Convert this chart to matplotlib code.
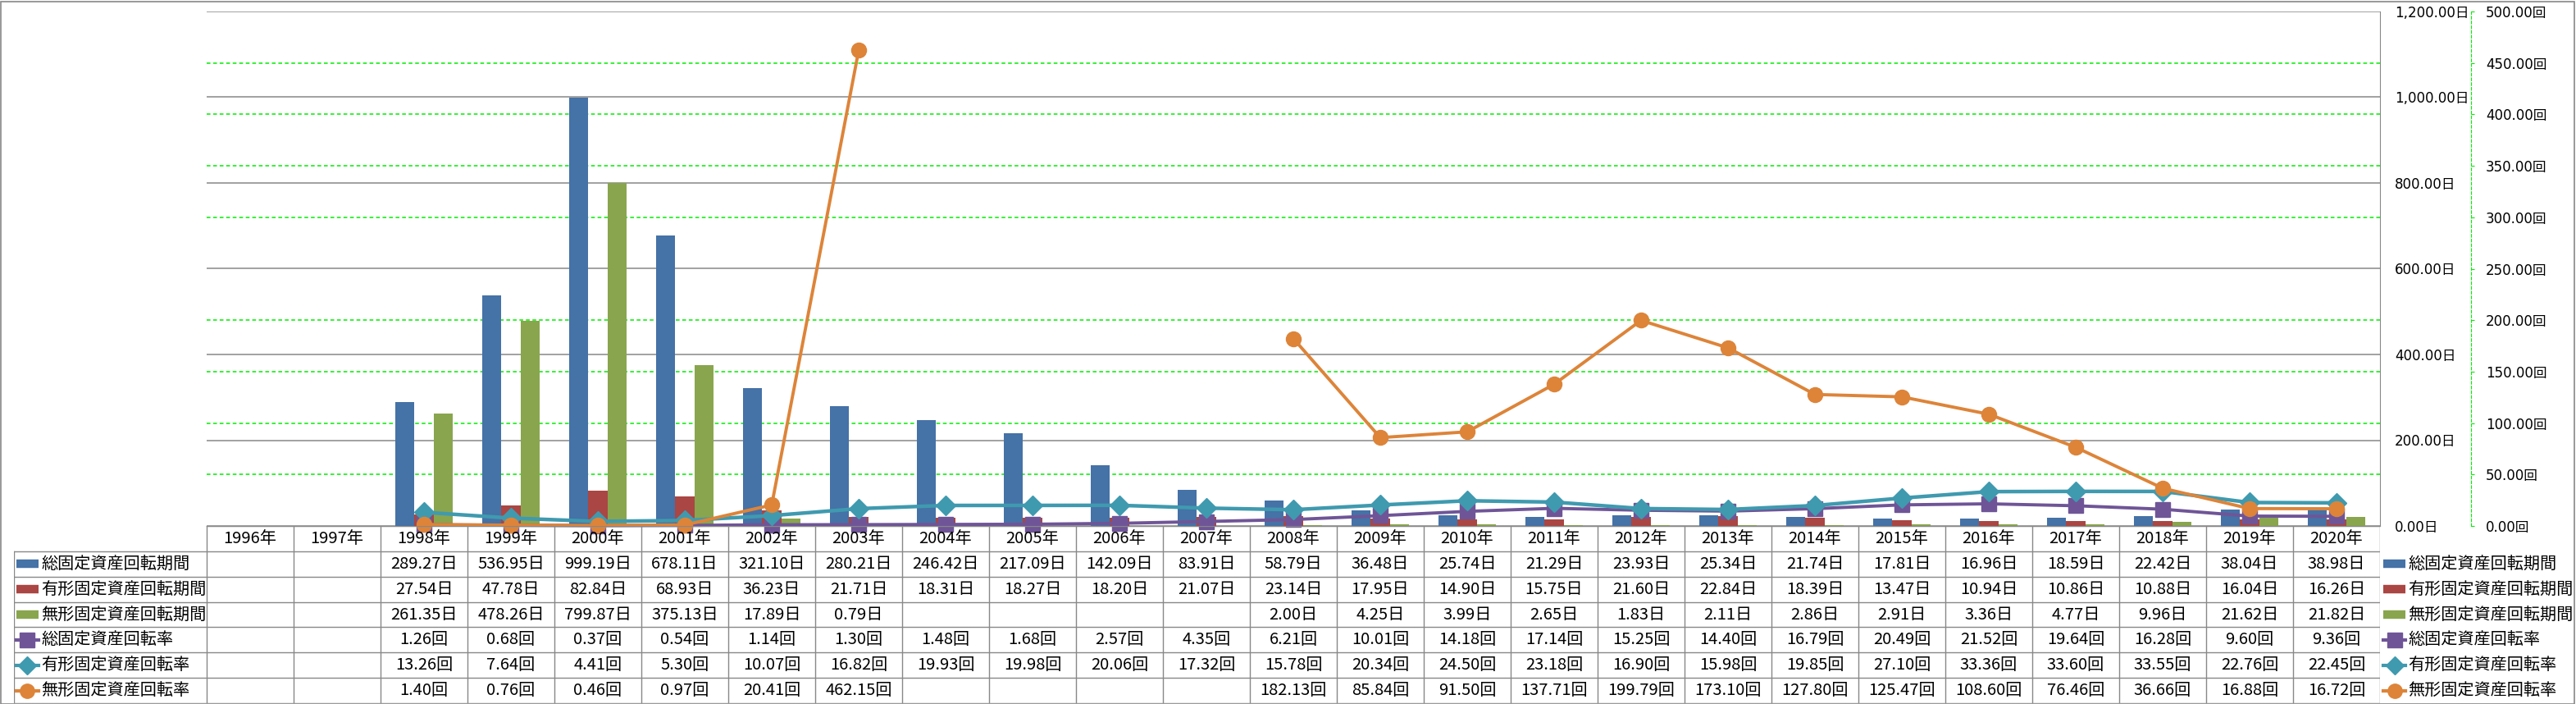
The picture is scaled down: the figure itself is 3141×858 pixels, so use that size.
import numpy as np
import matplotlib
matplotlib.use('Agg')
import matplotlib.pyplot as plt
from matplotlib.ticker import FuncFormatter, MultipleLocator
from matplotlib.patches import Rectangle

plt.rcParams['font.family'] = ['DejaVu Sans', 'Noto Sans CJK JP']

nan = np.nan
years = [f'{y}年' for y in range(1996, 2021)]

# 回転期間 (日)
total_days = [nan, nan, 289.27, 536.95, 999.19, 678.11, 321.10, 280.21, 246.42, 217.09,
              142.09, 83.91, 58.79, 36.48, 25.74, 21.29, 23.93, 25.34, 21.74, 17.81,
              16.96, 18.59, 22.42, 38.04, 38.98]
tangible_days = [nan, nan, 27.54, 47.78, 82.84, 68.93, 36.23, 21.71, 18.31, 18.27,
                 18.20, 21.07, 23.14, 17.95, 14.90, 15.75, 21.60, 22.84, 18.39, 13.47,
                 10.94, 10.86, 10.88, 16.04, 16.26]
intangible_days = [nan, nan, 261.35, 478.26, 799.87, 375.13, 17.89, 0.79, nan, nan,
                   nan, nan, 2.00, 4.25, 3.99, 2.65, 1.83, 2.11, 2.86, 2.91,
                   3.36, 4.77, 9.96, 21.62, 21.82]
# 回転率 (回)
total_rate = [nan, nan, 1.26, 0.68, 0.37, 0.54, 1.14, 1.30, 1.48, 1.68,
              2.57, 4.35, 6.21, 10.01, 14.18, 17.14, 15.25, 14.40, 16.79, 20.49,
              21.52, 19.64, 16.28, 9.60, 9.36]
tangible_rate = [nan, nan, 13.26, 7.64, 4.41, 5.30, 10.07, 16.82, 19.93, 19.98,
                 20.06, 17.32, 15.78, 20.34, 24.50, 23.18, 16.90, 15.98, 19.85, 27.10,
                 33.36, 33.60, 33.55, 22.76, 22.45]
intangible_rate = [nan, nan, 1.40, 0.76, 0.46, 0.97, 20.41, 462.15, nan, nan,
                   nan, nan, 182.13, 85.84, 91.50, 137.71, 199.79, 173.10, 127.80, 125.47,
                   108.60, 76.46, 36.66, 16.88, 16.72]

names = ['総固定資産回転期間', '有形固定資産回転期間', '無形固定資産回転期間',
         '総固定資産回転率', '有形固定資産回転率', '無形固定資産回転率']
units = ['日', '日', '日', '回', '回', '回']

blue, red, green = '#4572A7', '#AA4643', '#89A54E'
purple, teal, orange = '#6F5597', '#3F9AAF', '#DD8439'
gray = '#888888'
lime = '#00EE00'

W, H = 3141, 858
fig = plt.figure(figsize=(W / 100, H / 100), dpi=100)


def fbox(l, t, r, b):
    return [l / W, 1 - b / H, (r - l) / W, (b - t) / H]


px_l, px_r, px_t, px_b = 252, 2902, 14, 641
tbl_l, tbl_b = 17, 857

ax = fig.add_axes(fbox(px_l, px_t, px_r, px_b))
ax2 = ax.twinx()

x = np.arange(len(years))
bw = 0.223
ax.bar(x - bw, total_days, bw, color=blue, zorder=2)
ax.bar(x, tangible_days, bw, color=red, zorder=2)
ax.bar(x + bw, intangible_days, bw, color=green, zorder=2)

ax.set_xlim(-0.5, len(years) - 0.5)
ax.set_ylim(0, 1200)
ax.set_yticks(np.arange(0, 1201, 200))
ax.yaxis.set_minor_locator(MultipleLocator(120))
ax.grid(axis='y', which='major', color=gray, lw=1.1)
ax.grid(axis='y', which='minor', color=lime, lw=1.1, ls=(0, (3, 2.2)))
ax.set_axisbelow(True)
ax.set_xticks([])
ax.yaxis.tick_right()
ax.yaxis.set_major_formatter(FuncFormatter(lambda v, p: f'{v:,.2f}日'))
ax.tick_params(axis='y', which='both', length=0, pad=13, labelsize=12)
for s in ['top', 'left']:
    ax.spines[s].set_visible(False)
ax.spines['right'].set_color(gray)
ax.spines['bottom'].set_color(gray)

ax2.plot(x, total_rate, color=purple, lw=2.8, marker='s', ms=13, zorder=3, clip_on=False)
ax2.plot(x, tangible_rate, color=teal, lw=3.2, marker='D', ms=12, zorder=4, clip_on=False)
ax2.plot(x, intangible_rate, color=orange, lw=2.8, marker='o', ms=13, zorder=5, clip_on=False)
ax2.set_ylim(0, 500)
ax2.set_yticks(np.arange(0, 501, 50))
ax2.yaxis.set_major_formatter(FuncFormatter(lambda v, p: f'{v:,.2f}回'))
ax2.tick_params(axis='y', length=3, color=lime, pad=10, labelsize=12, direction='out')
for s in ['top', 'left', 'bottom']:
    ax2.spines[s].set_visible(False)
ax2.spines['right'].set_position(('outward', 111 * 0.72))
ax2.spines['right'].set_color(lime)
ax2.spines['right'].set_linestyle((0, (3, 2.2)))

# data table
axt = fig.add_axes(fbox(tbl_l, px_b, px_r, tbl_b))
col_w = (px_r - px_l) / len(years)
left_u = -0.5 - (px_l - tbl_l) / col_w
axt.set_xlim(left_u, len(years) - 0.5)
axt.set_ylim(0, 7)
axt.axis('off')

lw_t = 1.0
for k in range(len(years) + 1):
    axt.plot([k - 0.5, k - 0.5], [0, 7], color=gray, lw=lw_t)
axt.plot([left_u, left_u], [0, 6], color=gray, lw=lw_t)
axt.plot([-0.5, len(years) - 0.5], [7, 7], color=gray, lw=lw_t)
for r in range(0, 7):
    axt.plot([left_u, len(years) - 0.5], [r, r], color=gray, lw=lw_t)

tfont = dict(family=['Noto Sans CJK JP'], fontsize=14.5, va='center')
for i, y in enumerate(years):
    axt.text(i, 6.5, y, ha='center', **tfont)

series = [total_days, tangible_days, intangible_days, total_rate, tangible_rate, intangible_rate]
colors = [blue, red, green, purple, teal, orange]
markers = [None, None, None, 's', 'D', 'o']
for r, (vals, u) in enumerate(zip(series, units)):
    yy = 5.5 - r
    for i, v in enumerate(vals):
        if not np.isnan(v):
            axt.text(i, yy, f'{v:,.2f}{u}', ha='center', **tfont)


def draw_key(x0, yy, r):
    x1 = x0 + 27 / col_w
    if markers[r] is None:
        axt.plot([x0, x1], [yy, yy], color=colors[r], lw=7.5, solid_capstyle='butt', clip_on=False)
    else:
        axt.plot([x0, x1], [yy, yy], color=colors[r], lw=3, clip_on=False)
        axt.plot([(x0 + x1) / 2], [yy], color=colors[r], marker=markers[r],
                 ms=11.5 if markers[r] == 'D' else 12.5, clip_on=False)
    axt.text(x1 + 3 / col_w, yy, names[r], ha='left', clip_on=False, **tfont)


for r in range(6):
    yy = 5.5 - r
    draw_key(left_u + 3 / col_w, yy, r)
    draw_key(len(years) - 0.5 + 4 / col_w, yy, r)

fig.add_artist(Rectangle((0.5 / W, 1 - 857.5 / H), 3138.5 / W, 856 / H, transform=fig.transFigure,
                         fill=False, edgecolor=gray, lw=1.2))

fig.savefig('out.png', dpi=100)
